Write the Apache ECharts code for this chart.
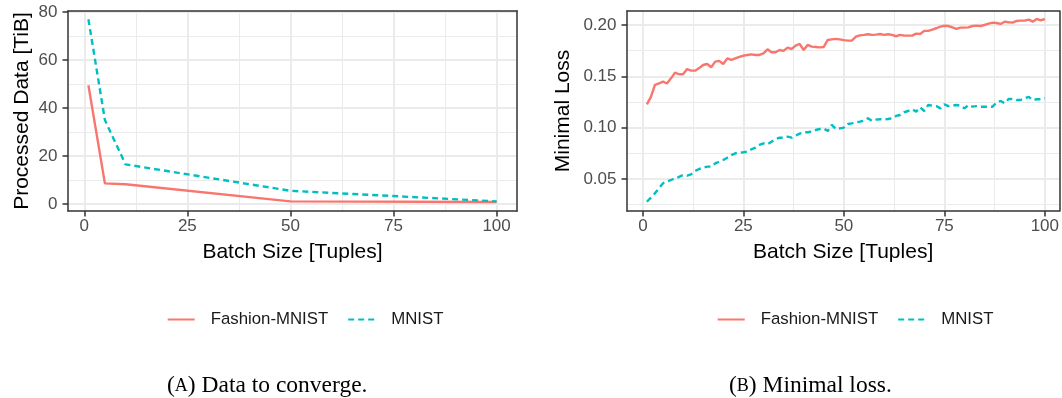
<!DOCTYPE html>
<html>
<head>
<meta charset="utf-8">
<script src="https://cdn.jsdelivr.net/npm/echarts@6/dist/echarts.min.js"></script>
<style>
  html, body { margin: 0; padding: 0; background: #ffffff; }
  #chart { width: 1062px; height: 398px; }
</style>
</head>
<body>
<div id="chart"></div>
<script>
// (A) Data processed until convergence, by batch size
const batchSizesA = [1, 5, 10, 50, 100];
const fashionDataTiB = [49.5, 8.6, 8.2, 1.1, 0.8];
const mnistDataTiB = [77.0, 35.0, 16.5, 5.5, 1.1];

// (B) Minimal loss for batch sizes 1..100
const batchSizesB = [
  1, 2, 3, 4, 5, 6, 7, 8, 9, 10, 11, 12, 13, 14, 15, 16, 17, 18, 19, 20,
  21, 22, 23, 24, 25, 26, 27, 28, 29, 30, 31, 32, 33, 34, 35, 36, 37, 38, 39, 40,
  41, 42, 43, 44, 45, 46, 47, 48, 49, 50, 51, 52, 53, 54, 55, 56, 57, 58, 59, 60,
  61, 62, 63, 64, 65, 66, 67, 68, 69, 70, 71, 72, 73, 74, 75, 76, 77, 78, 79, 80,
  81, 82, 83, 84, 85, 86, 87, 88, 89, 90, 91, 92, 93, 94, 95, 96, 97, 98, 99, 100
];
const fashionLoss = [
  0.1227, 0.1300, 0.1416, 0.1430, 0.1448, 0.1430, 0.1480, 0.1536, 0.1520, 0.1520,
  0.1570, 0.1555, 0.1555, 0.1580, 0.1610, 0.1620, 0.1588, 0.1643, 0.1650, 0.1620,
  0.1675, 0.1660, 0.1675, 0.1690, 0.1700, 0.1708, 0.1714, 0.1708, 0.1708, 0.1724,
  0.1763, 0.1734, 0.1734, 0.1756, 0.1747, 0.1779, 0.1766, 0.1799, 0.1815, 0.1756,
  0.1805, 0.1789, 0.1786, 0.1782, 0.1786, 0.1854, 0.1860, 0.1864, 0.1860, 0.1852,
  0.1847, 0.1847, 0.1886, 0.1899, 0.1903, 0.1909, 0.1903, 0.1906, 0.1912, 0.1903,
  0.1909, 0.1903, 0.1890, 0.1903, 0.1896, 0.1896, 0.1896, 0.1916, 0.1912, 0.1942,
  0.1942, 0.1955, 0.1968, 0.1984, 0.1992, 0.1990, 0.1977, 0.1961, 0.1974, 0.1974,
  0.1977, 0.1990, 0.1994, 0.1990, 0.2000, 0.2013, 0.2023, 0.2019, 0.2010, 0.2032,
  0.2026, 0.2023, 0.2039, 0.2042, 0.2042, 0.2052, 0.2032, 0.2058, 0.2045, 0.2058
];
const mnistLoss = [
  0.0278, 0.0318, 0.0360, 0.0410, 0.0458, 0.0474, 0.0490, 0.0506, 0.0520, 0.0539,
  0.0532, 0.0545, 0.0578, 0.0597, 0.0610, 0.0620, 0.0620, 0.0652, 0.0669, 0.0685,
  0.0707, 0.0733, 0.0750, 0.0756, 0.0760, 0.0766, 0.0789, 0.0805, 0.0831, 0.0847,
  0.0837, 0.0863, 0.0889, 0.0902, 0.0902, 0.0912, 0.0902, 0.0922, 0.0941, 0.0955,
  0.0955, 0.0961, 0.0977, 0.0987, 0.0993, 0.0967, 0.1026, 0.0987, 0.0993, 0.1000,
  0.1035, 0.1042, 0.1052, 0.1058, 0.1068, 0.1091, 0.1065, 0.1078, 0.1081, 0.1081,
  0.1084, 0.1091, 0.1114, 0.1123, 0.1150, 0.1162, 0.1179, 0.1156, 0.1198, 0.1162,
  0.1220, 0.1214, 0.1210, 0.1188, 0.1227, 0.1210, 0.1214, 0.1220, 0.1214, 0.1188,
  0.1220, 0.1204, 0.1210, 0.1204, 0.1204, 0.1204, 0.1204, 0.1246, 0.1260, 0.1237,
  0.1279, 0.1279, 0.1269, 0.1269, 0.1286, 0.1299, 0.1269, 0.1276, 0.1276, 0.1286
];

// Tick positions
const xMajorTicks = [0, 25, 50, 75, 100];
const xMinorTicks = [12.5, 37.5, 62.5, 87.5];
const yMajorTicksA = [0, 20, 40, 60, 80];
const yMinorTicksA = [10, 30, 50, 70];
const yMajorTicksB = [0.05, 0.10, 0.15, 0.20];
const yMinorTicksB = [0.025, 0.075, 0.125, 0.175];

// Labels
const seriesNames = ['Fashion-MNIST', 'MNIST'];
const xTitle = 'Batch Size [Tuples]';
const yTitleA = 'Processed Data [TiB]';
const yTitleB = 'Minimal Loss';

const SANS = 'Liberation Sans, Arial, Helvetica, sans-serif';
const SERIF = 'Liberation Serif, Times New Roman, serif';
const RED = '#F8766D';
const CYAN = '#00BFC4';
const INK = '#333333';
const GRID_LINE = '#EBEBEB';
const FRAME_W = 1.5;

const X_RANGE_A = [-3.95, 104.95];
const X_RANGE_B = [-3.95, 103.6];
const Y_RANGE_A = [-2.92, 80.42];
const Y_RANGE_B = [0.0188, 0.2136];

// Axis with labels, ticks, major grid lines and the bottom/left frame edge
function majorAxis(kind, gridIndex, range, ticks, title, nameGap, fmt) {
  return {
    type: 'value', gridIndex,
    position: kind === 'x' ? 'bottom' : 'left',
    min: range[0], max: range[1],
    axisLine: { show: true, onZero: false, lineStyle: { color: INK, width: FRAME_W } },
    axisTick: { show: true, length: 5.5, customValues: ticks, lineStyle: { color: INK, width: FRAME_W } },
    axisLabel: {
      customValues: ticks, margin: kind === 'x' ? 7 : 10.5,
      color: '#4D4D4D', fontSize: 17, fontFamily: SANS,
      formatter: fmt
    },
    splitLine: { show: true, lineStyle: { color: GRID_LINE, width: 2 } },
    name: title, nameLocation: 'middle', nameGap,
    nameTextStyle: { fontSize: 21, color: '#000000', fontFamily: SANS }
  };
}

// Companion axis: minor grid lines and the top/right frame edge
function minorAxis(kind, gridIndex, range, ticks) {
  return {
    type: 'value', gridIndex,
    position: kind === 'x' ? 'top' : 'right',
    min: range[0], max: range[1],
    axisLine: { show: true, onZero: false, lineStyle: { color: INK, width: FRAME_W } },
    axisTick: { show: false, length: 0, customValues: ticks },
    axisLabel: { show: false, customValues: ticks },
    splitLine: { show: true, lineStyle: { color: GRID_LINE, width: 1 } }
  };
}

function lineSeries(name, xIdx, yIdx, xs, ys, color, dashed) {
  return {
    name, type: 'line', xAxisIndex: xIdx, yAxisIndex: yIdx,
    data: xs.map((x, i) => [x, ys[i]]),
    symbol: 'none', z: 5,
    itemStyle: { color },
    lineStyle: { color, width: 2.4, type: dashed ? [6, 4] : 'solid' }
  };
}

function legendAt(left) {
  return {
    left, top: 311, orient: 'horizontal', padding: 0,
    itemWidth: 27, itemHeight: 14, itemGap: 19,
    data: seriesNames,
    selectedMode: false,
    itemStyle: { opacity: 0 },
    textStyle: { fontSize: 16.8, color: '#1A1A1A', fontFamily: SANS, padding: [0, 0, 0, 11] }
  };
}

function caption(left, letter, rest) {
  return {
    left, top: 374, padding: 0,
    text: '(' + '{sc|' + letter + '}) ' + rest,
    textStyle: {
      fontFamily: SERIF, fontSize: 23.5, fontWeight: 'normal', color: '#000000',
      rich: { sc: { fontFamily: SERIF, fontSize: 18, color: '#000000' } }
    }
  };
}

const chart = echarts.init(document.getElementById('chart'), null, { renderer: 'canvas' });
chart.setOption({
  animation: false,
  backgroundColor: '#ffffff',
  title: [
    caption(167, 'A', 'Data to converge.'),
    caption(729, 'B', 'Minimal loss.')
  ],
  legend: [legendAt(166.7), legendAt(716.7)],
  grid: [
    { left: 68, top: 11, width: 449, height: 200, show: false },
    { left: 627, top: 11, width: 434, height: 200, show: false }
  ],
  xAxis: [
    majorAxis('x', 0, X_RANGE_A, xMajorTicks, xTitle, 31),
    minorAxis('x', 0, X_RANGE_A, xMinorTicks),
    majorAxis('x', 1, X_RANGE_B, xMajorTicks, xTitle, 31),
    minorAxis('x', 1, X_RANGE_B, xMinorTicks)
  ],
  yAxis: [
    majorAxis('y', 0, Y_RANGE_A, yMajorTicksA, yTitleA, 35, v => String(Math.round(v))),
    minorAxis('y', 0, Y_RANGE_A, yMinorTicksA),
    majorAxis('y', 1, Y_RANGE_B, yMajorTicksB, yTitleB, 53, v => v.toFixed(2)),
    minorAxis('y', 1, Y_RANGE_B, yMinorTicksB)
  ],
  series: [
    lineSeries(seriesNames[0], 0, 0, batchSizesA, fashionDataTiB, RED, false),
    lineSeries(seriesNames[1], 0, 0, batchSizesA, mnistDataTiB, CYAN, true),
    lineSeries(seriesNames[0], 2, 2, batchSizesB, fashionLoss, RED, false),
    lineSeries(seriesNames[1], 2, 2, batchSizesB, mnistLoss, CYAN, true)
  ]
});
</script>
</body>
</html>
